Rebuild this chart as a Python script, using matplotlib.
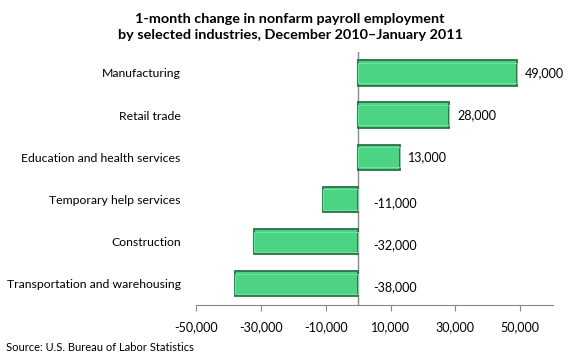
import matplotlib.pyplot as plt
from matplotlib.ticker import FuncFormatter

plt.rcParams['font.family'] = ['Lato', 'DejaVu Sans']

industries = ["Manufacturing", "Retail trade", "Education and health services",
              "Temporary help services", "Construction", "Transportation and warehousing"]
changes = [49000, 28000, 13000, -11000, -32000, -38000]
tick_values = [-50000, -30000, -10000, 10000, 30000, 50000]

fig = plt.figure(figsize=(5.8, 3.6), dpi=100)
ax = fig.add_axes([0.338, 0.153, 0.615, 0.703])

ypos = list(range(len(industries)))[::-1]
ax.barh(ypos, changes, height=0.6, color='#4cd383', edgecolor='#2c7049', linewidth=1.3, zorder=2)
# thin light line inside the edge, for the bevel look
ax.barh(ypos, changes, height=0.48, color='none', edgecolor='#72e3a0', linewidth=0.7, zorder=3)

for y, v in zip(ypos, changes):
    if v > 0:
        ax.text(v + 2500, y, f"{v:,}", va='center', ha='left', fontsize=9)
    else:
        ax.text(4500, y - 0.08, f"{v:,}", va='center', ha='left', fontsize=9)

ax.set_xlim(-50000, 60000)
ax.set_ylim(-0.5, len(industries) - 0.5)
ax.set_xticks(tick_values)
ax.xaxis.set_major_formatter(FuncFormatter(lambda x, p: f"{int(x):,}"))
ax.set_yticks(ypos)
ax.set_yticklabels(industries, fontsize=8.8)
ax.tick_params(axis='y', length=0, pad=11)
ax.tick_params(axis='x', direction='out', length=4, color='#888888', labelsize=9, pad=8)

for s in ['top', 'right', 'left']:
    ax.spines[s].set_visible(False)
ax.spines['bottom'].set_color('#888888')
ax.axvline(0, color='#888888', linewidth=1, zorder=1)

fig.text(0.5, 0.925, "1-month change in nonfarm payroll employment\nby selected industries, December 2010\u2013January 2011",
         ha='center', va='center', fontsize=10.4, fontweight='bold', linespacing=1.35)
fig.text(0.01, 0.035, "Source: U.S. Bureau of Labor Statistics", fontsize=8, ha='left', va='center')

fig.savefig('out.png', dpi=100)
